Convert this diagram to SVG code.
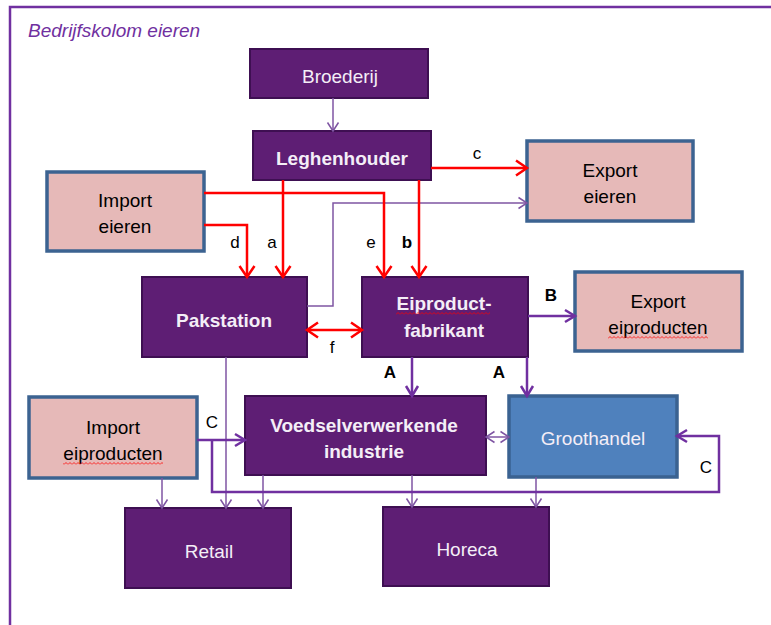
<svg xmlns="http://www.w3.org/2000/svg" width="771" height="625" viewBox="0 0 771 625">
<style>
.pn{fill:#5e1e74;stroke:#3e0f52;stroke-width:2}
.pk{fill:#e6b9b8;stroke:#3c6391;stroke-width:3.5}
.bl{fill:#4f81bd;stroke:#3a6291;stroke-width:3.5}
.tw{font-family:"Liberation Sans",Arial,sans-serif;font-size:19px;fill:#f4eef7;text-anchor:middle}
.tb{font-weight:bold}
.tk{font-family:"Liberation Sans",Arial,sans-serif;font-size:19px;fill:#000000;text-anchor:middle}
.lb{font-family:"Liberation Sans",Arial,sans-serif;font-size:17px;fill:#000000;text-anchor:middle}
.red{fill:none;stroke:#ff0000;stroke-width:2.5;marker-end:url(#mr)}
.pth{fill:none;stroke:#7030a0;stroke-width:2.5;marker-end:url(#mp)}
.ptn{fill:none;stroke:#7f55a3;stroke-width:1.5;marker-end:url(#mt)}
</style>
<defs>
<marker id="mr" markerUnits="userSpaceOnUse" viewBox="0 0 16 18" markerWidth="16" markerHeight="18" refX="13" refY="9" orient="auto-start-reverse">
<path d="M2,1.5 L13,9 L2,16.5" fill="none" stroke="#ff0000" stroke-width="2.5"/>
</marker>
<marker id="mp" markerUnits="userSpaceOnUse" viewBox="0 0 16 16" markerWidth="16" markerHeight="16" refX="13" refY="8" orient="auto-start-reverse">
<path d="M3,2 L13,8 L3,14" fill="none" stroke="#7030a0" stroke-width="2.5"/>
</marker>
<marker id="mt" markerUnits="userSpaceOnUse" viewBox="0 0 12 14" markerWidth="12" markerHeight="14" refX="10" refY="7" orient="auto-start-reverse">
<path d="M1.5,1.5 L10,7 L1.5,12.5" fill="none" stroke="#7f55a3" stroke-width="1.5"/>
</marker>
<pattern id="sq" width="4" height="3" patternUnits="userSpaceOnUse">
<polyline points="0,2.5 2,0.5 4,2.5" fill="none" stroke="#ff0000" stroke-width="0.8"/>
</pattern>
</defs>
<rect width="771" height="625" fill="#ffffff"/>
<rect x="10" y="7" width="820" height="700" fill="none" stroke="#7030a0" stroke-width="2.5"/>
<text x="28" y="37" font-family="'Liberation Sans',Arial,sans-serif" font-size="19" font-style="italic" fill="#7030a0">Bedrijfskolom eieren</text>

<g id="broederij"><rect class="pn" x="250" y="49" width="178" height="49"/><text class="tw" x="340" y="83">Broederij</text></g>
<g id="leghenhouder"><rect class="pn" x="253" y="131" width="178" height="49"/><text class="tw tb" x="342" y="165">Leghenhouder</text></g>
<g id="import-eieren"><rect class="pk" x="47" y="172" width="157" height="79"/><text class="tk" x="125" y="207">Import</text><text class="tk" x="125" y="233">eieren</text></g>
<g id="export-eieren"><rect class="pk" x="527" y="141" width="166" height="80"/><text class="tk" x="610" y="177">Export</text><text class="tk" x="610" y="203">eieren</text></g>
<g id="pakstation"><rect class="pn" x="142" y="277" width="165" height="80"/><text class="tw tb" x="224" y="327">Pakstation</text></g>
<g id="eiproduct-fabrikant"><rect class="pn" x="362" y="277" width="166" height="80"/><text class="tw tb" x="444" y="310">Eiproduct-</text><text class="tw tb" x="444" y="337">fabrikant</text><rect x="396" y="312" width="94" height="3" fill="url(#sq)"/></g>
<g id="export-eiproducten"><rect class="pk" x="575" y="272" width="167" height="79"/><text class="tk" x="658" y="308">Export</text><text class="tk" x="658" y="334">eiproducten</text><rect x="608" y="336" width="100" height="3" fill="url(#sq)"/></g>
<g id="import-eiproducten"><rect class="pk" x="29" y="397" width="168" height="81"/><text class="tk" x="113" y="434">Import</text><text class="tk" x="113" y="460">eiproducten</text><rect x="63" y="462" width="100" height="3" fill="url(#sq)"/></g>
<g id="voedselverwerkende-industrie"><rect class="pn" x="245" y="396" width="241" height="79"/><text class="tw tb" x="364" y="432">Voedselverwerkende</text><text class="tw tb" x="364" y="458">industrie</text></g>
<g id="groothandel"><rect class="bl" x="509" y="396" width="168" height="81"/><text class="tw" x="593" y="445">Groothandel</text></g>
<g id="retail"><rect class="pn" x="125" y="508" width="166" height="80"/><text class="tw" x="209" y="558">Retail</text></g>
<g id="horeca"><rect class="pn" x="383" y="507" width="166" height="79"/><text class="tw" x="467" y="556">Horeca</text></g>

<g id="connectors">
<path class="ptn" d="M333,98 V131"/>
<path class="ptn" d="M307,306 H333 V203 H527"/>
<path class="ptn" d="M226,357 V508"/>
<path class="ptn" d="M162,478 V508"/>
<path class="ptn" d="M263,475 V508"/>
<path class="ptn" d="M412,475 V507"/>
<path class="ptn" d="M536,477 V507"/>
<path class="ptn" d="M486,437 H509" marker-start="url(#mt)"/>
<path class="pth" d="M197,440 H245"/>
<path class="pth" d="M212,440 V492 H719 V436 H677"/>
<path class="pth" d="M412,357 V396"/>
<path class="pth" d="M527,357 V396"/>
<path class="pth" d="M528,316 H575"/>
<path class="red" d="M431,168 H527"/>
<path class="red" d="M204,193 H384 V277"/>
<path class="red" d="M204,225 H247 V277"/>
<path class="red" d="M283,180 V277"/>
<path class="red" d="M419,180 V277"/>
<path class="red" d="M307,330 H362" marker-start="url(#mr)"/>
<text class="lb" x="477" y="159">c</text>
<text class="lb" x="235" y="248">d</text>
<text class="lb" x="272" y="248">a</text>
<text class="lb" x="371" y="248">e</text>
<text class="lb tb" x="407" y="248">b</text>
<text class="lb" x="332" y="353">f</text>
<text class="lb tb" x="390" y="378">A</text>
<text class="lb tb" x="499" y="378">A</text>
<text class="lb tb" x="551" y="301">B</text>
<text class="lb" x="212" y="428">C</text>
<text class="lb" x="706" y="473">C</text>
</g>
</svg>
